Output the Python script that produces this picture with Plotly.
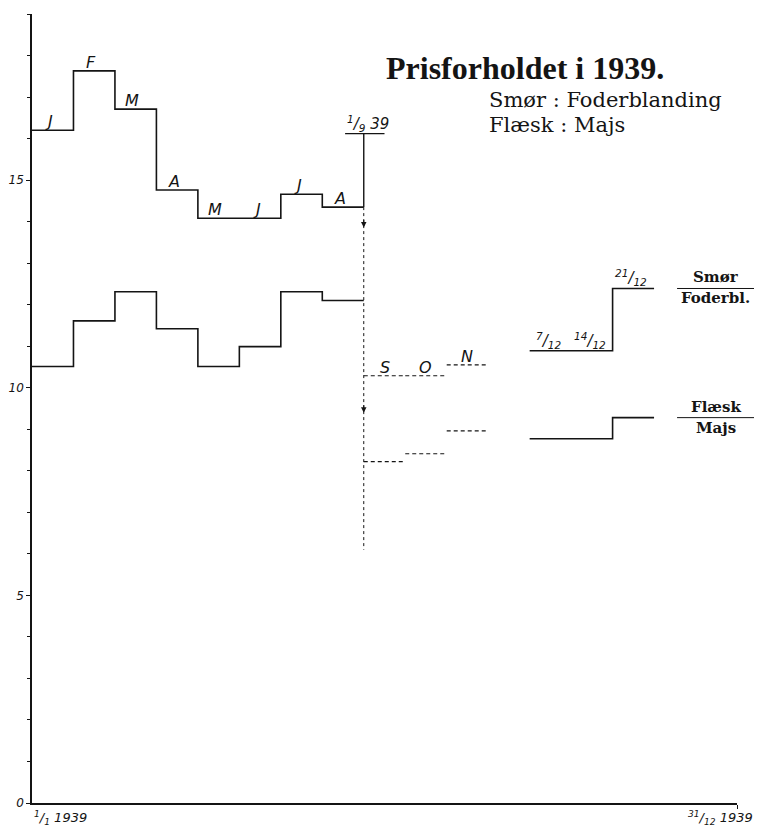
import plotly.graph_objects as go

# x axis in "periods": 0 = 1/1 1939, axis ends at 17 = 31/12 1939
# Jan-Aug monthly (periods 0-8), Sep-Nov monthly dashed (8-11), Dec weekly (12-15)
months_pre = ["J", "F", "M", "A", "M", "J", "J", "A"]
smor_pre = [16.2, 17.63, 16.71, 14.76, 14.08, 14.08, 14.66, 14.35]
flaesk_pre = [10.51, 11.61, 12.31, 11.42, 10.51, 10.99, 12.31, 12.10]

months_post = ["S", "O", "N"]
smor_post = [10.29, 10.29, 10.55]
flaesk_post = [8.22, 8.41, 8.96]

weeks_dec = ["<sup>7</sup>/<sub>12</sub>", "<sup>14</sup>/<sub>12</sub>", "<sup>21</sup>/<sub>12</sub>"]
smor_dec = [10.89, 10.89, 12.39]
flaesk_dec = [8.77, 8.77, 9.28]

start_pre, start_post, start_dec = 0, 8, 12
x_end = 17
war_date = 8            # 1/9 1939
war_top = 16.12
war_bottom = 6.1
arrow_levels = [13.86, 9.40]

y_ticks = [0, 5, 10, 15]
x_labels = ["<sup>1</sup>/<sub>1</sub> 1939", "<sup>31</sup>/<sub>12</sub> 1939"]

INK = "#141414"
HAND = dict(family="DejaVu Sans", size=16, color=INK, style="italic")


def steps(start, vals):
    xs = [start + i for i in range(len(vals))] + [start + len(vals)]
    ys = list(vals) + [vals[-1]]
    return xs, ys


def segs(start, vals):
    xs, ys = [], []
    for i, v in enumerate(vals):
        xs += [start + i, start + i + 1, None]
        ys += [v, v, None]
    return xs, ys


fig = go.Figure()

for vals in (smor_pre, flaesk_pre):
    xs, ys = steps(start_pre, vals)
    fig.add_trace(go.Scatter(x=xs, y=ys, mode="lines", line_shape="hv",
                             line=dict(color=INK, width=1.6), hoverinfo="skip"))

for vals in (smor_post, flaesk_post):
    xs, ys = segs(start_post, vals)
    fig.add_trace(go.Scatter(x=xs, y=ys, mode="lines",
                             line=dict(color=INK, width=1.1, dash="4px,3px"), hoverinfo="skip"))

for vals in (smor_dec, flaesk_dec):
    xs, ys = steps(start_dec, vals)
    fig.add_trace(go.Scatter(x=xs, y=ys, mode="lines", line_shape="hv",
                             line=dict(color=INK, width=1.6), hoverinfo="skip"))

# 1/9 marker: solid from top to the upper series, dashed further down
fig.add_trace(go.Scatter(x=[war_date, war_date], y=[war_top, smor_pre[-1]], mode="lines",
                         line=dict(color=INK, width=1.4), hoverinfo="skip"))
fig.add_trace(go.Scatter(x=[war_date, war_date], y=[smor_pre[-1], war_bottom], mode="lines",
                         line=dict(color=INK, width=1.0, dash="3px,3px"), hoverinfo="skip"))
fig.add_shape(type="line", xref="x", yref="y", x0=war_date - 0.45, x1=war_date + 0.5,
              y0=war_top, y1=war_top, line=dict(color=INK, width=1.2))

annotations = []
for lv in arrow_levels:
    annotations.append(dict(x=war_date, y=lv, xref="x", yref="y", text="", showarrow=True,
                            ax=0, ay=-9, arrowhead=2, arrowsize=1, arrowwidth=1.1,
                            arrowcolor=INK))

annotations.append(dict(x=war_date + 0.1, y=war_top, xref="x", yref="y",
                        text="<sup>1</sup>/<sub>9</sub> 39", showarrow=False,
                        xanchor="center", yanchor="bottom", yshift=-2,
                        font=dict(HAND, size=15)))

for i, (m, v) in enumerate(zip(months_pre, smor_pre)):
    annotations.append(dict(x=start_pre + i + 0.42, y=v, xref="x", yref="y", text=m,
                            showarrow=False, xanchor="center", yanchor="bottom", yshift=-3,
                            font=HAND))
for i, (m, v) in enumerate(zip(months_post, smor_post)):
    annotations.append(dict(x=start_post + i + 0.5, y=v, xref="x", yref="y", text=m,
                            showarrow=False, xanchor="center", yanchor="bottom", yshift=-3,
                            font=HAND))
for i, (m, v) in enumerate(zip(weeks_dec, smor_dec)):
    annotations.append(dict(x=start_dec + i + 0.45, y=v, xref="x", yref="y", text=m,
                            showarrow=False, xanchor="center", yanchor="bottom", yshift=-2,
                            font=dict(HAND, size=15)))

# series labels at right, fraction style
LBL = dict(family="DejaVu Serif", size=15, color=INK, weight="bold")
for top, bottom, lv in (("Smør", "Foderbl.", smor_dec[-1]), ("Flæsk", "Majs", flaesk_dec[-1])):
    fig.add_shape(type="line", xref="paper", yref="y", x0=0.915, x1=1.05,
                  y0=lv, y1=lv, line=dict(color=INK, width=1.0))
    annotations.append(dict(x=0.97, y=lv, xref="paper", yref="y", text=top, showarrow=False,
                            xanchor="center", yanchor="bottom", yshift=0, font=LBL))
    annotations.append(dict(x=0.97, y=lv, xref="paper", yref="y", text=bottom, showarrow=False,
                            xanchor="center", yanchor="top", yshift=1, font=LBL))

# title and subtitle
annotations.append(dict(x=0.699, y=0.932, xref="paper", yref="paper",
                        xanchor="center", yanchor="middle",
                        text="<b>Prisforholdet i 1939.</b>", showarrow=False,
                        font=dict(family="Liberation Serif", size=32, color=INK)))
annotations.append(dict(x=0.645, y=0.8916, xref="paper", yref="paper",
                        xanchor="left", yanchor="middle",
                        text="Smør : Foderblanding", showarrow=False,
                        font=dict(family="DejaVu Serif", size=21, color=INK)))
annotations.append(dict(x=0.645, y=0.8599, xref="paper", yref="paper",
                        xanchor="left", yanchor="middle",
                        text="Flæsk : Majs", showarrow=False,
                        font=dict(family="DejaVu Serif", size=21, color=INK)))

# x axis end labels
annotations.append(dict(x=0.0, y=-0.019, xref="paper", yref="paper",
                        xanchor="left", yanchor="middle",
                        text=x_labels[0], showarrow=False, font=dict(HAND, size=13)))
annotations.append(dict(x=1.026, y=-0.019, xref="paper", yref="paper",
                        xanchor="right", yanchor="middle",
                        text=x_labels[1], showarrow=False, font=dict(HAND, size=13)))

# the page body has an 8px margin, so the figure is drawn 8px in and 8px smaller
fig.update_layout(
    width=754, height=825,
    margin=dict(l=24, r=25, t=6, b=30, autoexpand=False),
    paper_bgcolor="white", plot_bgcolor="white",
    showlegend=False,
    annotations=annotations,
    xaxis=dict(range=[0, x_end], showgrid=False, zeroline=False, showline=True,
               automargin=False,
               linecolor=INK, linewidth=1.6, tickvals=[x_end], ticktext=[""],
               ticks="outside", ticklen=4, tickcolor=INK, tickwidth=1.2),
    yaxis=dict(range=[0, 19], showgrid=False, zeroline=False, showline=True,
               automargin=False,
               linecolor=INK, linewidth=1.6, tickvals=y_ticks,
               ticktext=[str(t) for t in y_ticks], ticks="outside", ticklen=4,
               tickcolor=INK, tickwidth=1.2,
               tickfont=dict(family="DejaVu Sans", size=12, color=INK, style="italic"),
               minor=dict(dtick=1, tick0=0, ticks="outside", ticklen=3,
                          tickcolor=INK, tickwidth=1, showgrid=False)),
)

fig.write_html("out.html")
